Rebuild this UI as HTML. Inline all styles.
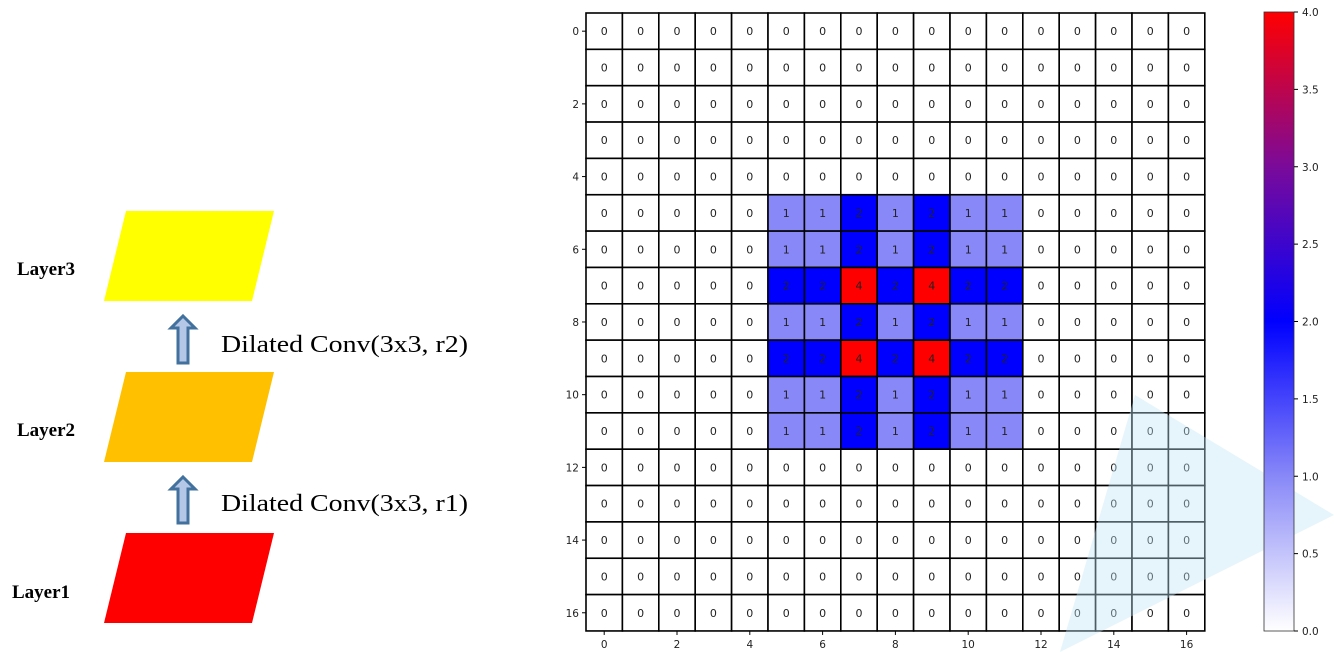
<!DOCTYPE html>
<html><head><meta charset="utf-8"><style>
html,body{margin:0;padding:0;background:#fff;width:1334px;height:652px;overflow:hidden}
svg{display:block}
</style></head><body>
<svg id="s" width="1334" height="652" xmlns="http://www.w3.org/2000/svg">
<defs>
<linearGradient id="cb" x1="0" y1="1" x2="0" y2="0">
<stop offset="0" stop-color="#ffffff"/><stop offset="0.25" stop-color="#8888f8"/><stop offset="0.5" stop-color="#0000ff"/><stop offset="0.75" stop-color="#7a0a9a"/><stop offset="1" stop-color="#ff0000"/>
</linearGradient>
</defs>
<g font-family="Liberation Serif, serif">
<polygon points="126,211 274,211 252,301 104,301" fill="#ffff00"/>
<polygon points="126,372 274,372 252,462 104,462" fill="#ffc000"/>
<polygon points="126,533 274,533 252,623 104,623" fill="#ff0000"/>
<text x="17" y="275" font-size="19" font-weight="bold">Layer3</text>
<text x="17" y="436" font-size="19" font-weight="bold">Layer2</text>
<text x="12" y="598" font-size="19" font-weight="bold">Layer1</text>
<polygon points="183,316 195,328 188,328 188,363 178,363 178,328 171,328" fill="#b4c7e7" stroke="#41719c" stroke-width="3"/>
<polygon points="183,477 195,489 188,489 188,523 178,523 178,489 171,489" fill="#b4c7e7" stroke="#41719c" stroke-width="3"/>
<text x="221" y="352" font-size="24" textLength="247" lengthAdjust="spacingAndGlyphs">Dilated Conv(3x3, r2)</text>
<text x="221" y="511" font-size="24" textLength="247" lengthAdjust="spacingAndGlyphs">Dilated Conv(3x3, r1)</text>
</g>
<g id="hm" font-family="DejaVu Sans, sans-serif"></g>
<polygon points="1135,395 1334,515 1060,652" fill="#bfe6f5" opacity="0.4"/>
<g id="cbar" font-family="DejaVu Sans, sans-serif"></g>
</svg>
<script>
const rowsData = [
[0,0,0,0,0,0,0,0,0,0,0,0,0,0,0,0,0],
[0,0,0,0,0,0,0,0,0,0,0,0,0,0,0,0,0],
[0,0,0,0,0,0,0,0,0,0,0,0,0,0,0,0,0],
[0,0,0,0,0,0,0,0,0,0,0,0,0,0,0,0,0],
[0,0,0,0,0,0,0,0,0,0,0,0,0,0,0,0,0],
[0,0,0,0,0,1,1,2,1,2,1,1,0,0,0,0,0],
[0,0,0,0,0,1,1,2,1,2,1,1,0,0,0,0,0],
[0,0,0,0,0,2,2,4,2,4,2,2,0,0,0,0,0],
[0,0,0,0,0,1,1,2,1,2,1,1,0,0,0,0,0],
[0,0,0,0,0,2,2,4,2,4,2,2,0,0,0,0,0],
[0,0,0,0,0,1,1,2,1,2,1,1,0,0,0,0,0],
[0,0,0,0,0,1,1,2,1,2,1,1,0,0,0,0,0],
[0,0,0,0,0,0,0,0,0,0,0,0,0,0,0,0,0],
[0,0,0,0,0,0,0,0,0,0,0,0,0,0,0,0,0],
[0,0,0,0,0,0,0,0,0,0,0,0,0,0,0,0,0],
[0,0,0,0,0,0,0,0,0,0,0,0,0,0,0,0,0],
[0,0,0,0,0,0,0,0,0,0,0,0,0,0,0,0,0]
];
const axisTicks = [0,2,4,6,8,10,12,14,16];
const cbarTicks = [0.0,0.5,1.0,1.5,2.0,2.5,3.0,3.5,4.0];
const vmin = 0, vmax = 4;

const NS="http://www.w3.org/2000/svg";
const X0=586, Y0=13, CW=36.4, CH=36.35;
const xs=i=>X0+i*CW, ys=i=>Y0+i*CH;
function color(v){
  const stops=[[0,[255,255,255]],[1,[136,136,248]],[2,[0,0,255]],[3,[122,10,154]],[4,[255,0,0]]];
  for(let k=0;k<stops.length-1;k++){const a=stops[k],b=stops[k+1];
    if(v<=b[0]){const t=(v-a[0])/(b[0]-a[0]);return 'rgb('+a[1].map((c,j)=>Math.round(c+(b[1][j]-c)*t)).join(',')+')';}}
  return 'rgb(255,0,0)';
}
function el(tag,attrs,parent){const e=document.createElementNS(NS,tag);for(const k in attrs)e.setAttribute(k,attrs[k]);parent.appendChild(e);return e;}
const hm=document.getElementById('hm');
rowsData.forEach((row,r)=>row.forEach((v,c)=>{
  const rc=el('rect',{x:xs(c),y:ys(r),width:CW,height:CH,fill:color(v),stroke:'#000','stroke-width':1.6},hm);
  
  
  const t=el('text',{x:xs(c)+CW/2,y:ys(r)+CH/2+4,'font-size':11,'text-anchor':'middle',fill:'#222'},hm);
  
  
  t.textContent=v;
}));
const N=rowsData.length;
axisTicks.forEach(t=>{
  const cy=ys(t)+CH/2, cx=xs(t)+CW/2;
  el('line',{x1:X0-4,x2:X0,y1:cy,y2:cy,stroke:'#000'},hm);
  const ly=el('text',{x:X0-7,y:cy+4,'font-size':10.5,'text-anchor':'end',fill:'#222'},hm);
  
  
  ly.textContent=t;
  el('line',{x1:cx,x2:cx,y1:ys(N),y2:ys(N)+4,stroke:'#000'},hm);
  const lx=el('text',{x:cx,y:ys(N)+17,'font-size':10.5,'text-anchor':'middle',fill:'#222'},hm);
  
  
  lx.textContent=t;
});
const cb=document.getElementById('cbar');
const CBX=1264,CBW=30,CBT=12,CBB=631;
const cy2=v=>CBB-(v-vmin)/(vmax-vmin)*(CBB-CBT);
const br=el('rect',{x:CBX,y:CBT,width:CBW,height:CBB-CBT,fill:'url(#cb)',stroke:'#333','stroke-width':0.8},cb);


cbarTicks.forEach(v=>{
  const y=cy2(v);
  el('line',{x1:CBX+CBW,x2:CBX+CBW+4,y1:y,y2:y,stroke:'#000'},cb);
  const t=el('text',{x:CBX+CBW+8,y:y+4,'font-size':10.5,fill:'#222'},cb);
  
  
  t.textContent=v.toFixed(1);
});
</script>
</body></html>
